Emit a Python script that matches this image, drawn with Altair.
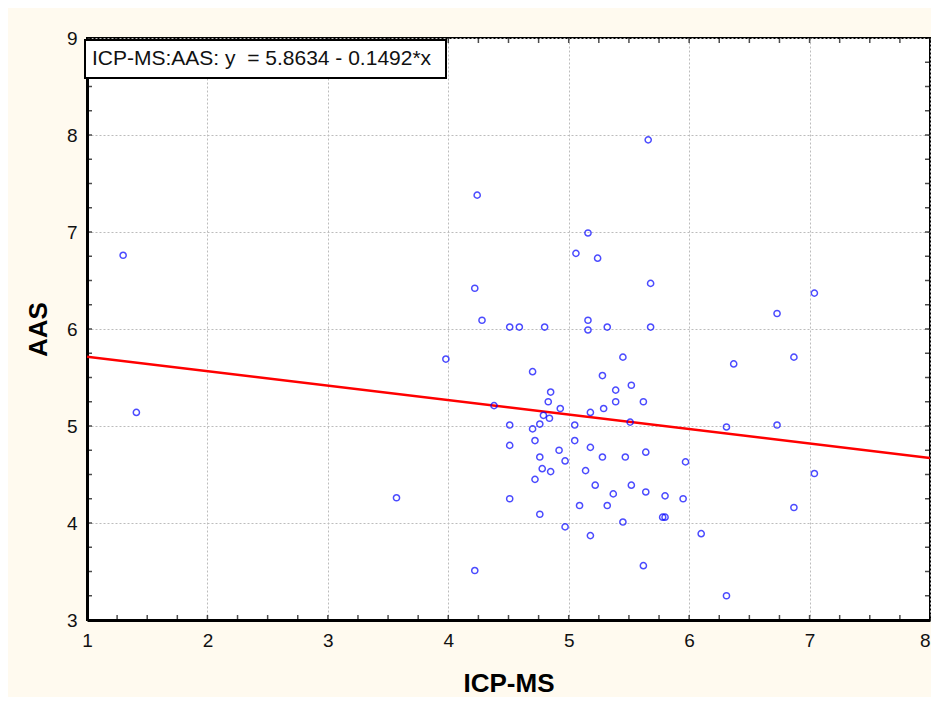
import altair as alt
import pandas as pd

# ---- data ----
icp = [1.30, 1.41, 3.57, 3.98, 4.24, 4.22, 4.28, 4.22, 4.38, 4.51,
       4.59, 4.80, 4.51, 4.51, 4.51, 4.70, 4.85, 4.83, 4.93, 4.79,
       4.84, 4.76, 4.70, 4.72, 4.76, 4.78, 4.85, 4.92, 4.97, 4.72,
       4.76, 4.97, 5.05, 5.05, 5.18, 5.18, 5.14, 5.22, 5.09, 5.18,
       5.28, 5.39, 5.39, 5.29, 5.28, 5.37, 5.32, 5.45, 5.52, 5.51,
       5.47, 5.52, 5.45, 5.62, 5.64, 5.64, 5.80, 5.78, 5.80, 5.62,
       5.95, 5.97, 6.10, 6.31, 6.31, 6.37, 6.73, 6.73, 6.87, 6.87,
       7.04, 7.04, 5.66, 5.16, 5.06, 5.24, 5.68, 5.16, 5.16, 5.32,
       5.68]
aas = [6.76, 5.14, 4.26, 5.69, 7.38, 6.42, 6.09, 3.51, 5.21, 6.02,
       6.02, 6.02, 5.01, 4.80, 4.25, 5.56, 5.35, 5.25, 5.18, 5.11,
       5.08, 5.02, 4.97, 4.85, 4.68, 4.56, 4.53, 4.75, 4.64, 4.45,
       4.09, 3.96, 5.01, 4.85, 5.14, 4.78, 4.54, 4.39, 4.18, 3.87,
       5.52, 5.37, 5.25, 5.18, 4.68, 4.30, 4.18, 5.71, 5.42, 5.04,
       4.68, 4.39, 4.01, 5.25, 4.73, 4.32, 4.28, 4.06, 4.06, 3.56,
       4.25, 4.63, 3.89, 4.99, 3.25, 5.64, 5.01, 6.16, 5.71, 4.16,
       6.37, 4.51, 7.95, 6.99, 6.78, 6.73, 6.47, 6.09, 5.99, 6.02,
       6.02]

intercept = 5.8634
slope = -0.1492
line_x = [1, 8]

x_ticks = [1, 2, 3, 4, 5, 6, 7, 8]
y_ticks = [3, 4, 5, 6, 7, 8, 9]
x_minor = [1 + 0.25 * i for i in range(29)]
y_minor = [3 + 0.25 * i for i in range(25)]

legend_text = "ICP-MS:AAS: y \u00a0= 5.8634 - 0.1492*x"
FONT = "Liberation Sans"

pts = pd.DataFrame({"icp": icp, "aas": aas})
fit = pd.DataFrame({"icp": line_x, "aas": [intercept + slope * v for v in line_x]})

xs = alt.Scale(domain=[1, 8], nice=False, zero=False)
ys = alt.Scale(domain=[3, 9], nice=False, zero=False)

xaxis = alt.Axis(values=x_ticks, title="ICP-MS", grid=True, ticks=False, format="d",
                 labelFlush=False,
                 labelAlign={"condition": {"test": "datum.value >= 8", "value": "right"},
                             "value": "center"},
                 labelFontSize=19, titleFontSize=26, titleFontWeight="bold",
                 labelPadding=11, titlePadding=20)
yaxis = alt.Axis(values=y_ticks, title="AAS", grid=True, ticks=False, format="d",
                 labelFlush=False,
                 labelFontSize=19, titleFontSize=26, titleFontWeight="bold",
                 labelPadding=10, titlePadding=15)

line = alt.Chart(fit).mark_line(color="#ff0000", strokeWidth=2.5, clip=True).encode(
    x=alt.X("icp:Q", scale=xs, axis=xaxis),
    y=alt.Y("aas:Q", scale=ys, axis=yaxis),
)

points = alt.Chart(pts).mark_point(shape="circle", filled=False, color="#0000ff",
                                   size=38, strokeWidth=1.5, clip=True).encode(
    x=alt.X("icp:Q", scale=xs),
    y=alt.Y("aas:Q", scale=ys),
)

bx = pd.DataFrame({"icp": x_minor})
by = pd.DataFrame({"aas": y_minor})
tick_style = dict(color="black", thickness=1.5, size=5)
bottom_ticks = alt.Chart(bx).mark_tick(orient="vertical", yOffset=-2.5, **tick_style).encode(
    x=alt.X("icp:Q", scale=xs), y=alt.Y("v:Q", scale=ys)
).transform_calculate(v="3")
top_ticks = alt.Chart(bx).mark_tick(orient="vertical", yOffset=2.5, **tick_style).encode(
    x=alt.X("icp:Q", scale=xs), y=alt.Y("v:Q", scale=ys)
).transform_calculate(v="9")
left_ticks = alt.Chart(by).mark_tick(orient="horizontal", xOffset=2.5, **tick_style).encode(
    y=alt.Y("aas:Q", scale=ys), x=alt.X("v:Q", scale=xs)
).transform_calculate(v="1")
right_ticks = alt.Chart(by).mark_tick(orient="horizontal", xOffset=-2.5, **tick_style).encode(
    y=alt.Y("aas:Q", scale=ys), x=alt.X("v:Q", scale=xs)
).transform_calculate(v="8")

legend_df = pd.DataFrame({"label": [legend_text]})
legend_box = alt.Chart(legend_df).mark_rect(fill="white", stroke="black", strokeWidth=2).encode(
    x=alt.value(-2), x2=alt.value(359), y=alt.value(2), y2=alt.value(40)
)
legend_label = alt.Chart(legend_df).mark_text(align="left", baseline="middle", fontSize=21,
                                              font=FONT, color="#111111").encode(
    x=alt.value(5), y=alt.value(21), text="label:N"
)

chart = alt.layer(line, points, bottom_ticks, top_ticks, left_ticks, right_ticks,
                  legend_box, legend_label).properties(
    width=843, height=582,
    padding={"left": 79, "top": 30, "right": 1, "bottom": 77},
    autosize=alt.AutoSizeParams(type="none"),
    background="#fffaef",
).configure_view(
    fill="white", stroke="black", strokeWidth=2
).configure_axis(
    domainColor="black", domainWidth=3,
    gridColor="#bcbcbc", gridDash=[2, 2], gridWidth=1,
    labelFont=FONT, titleFont=FONT, labelColor="#111111", titleColor="#000000",
)

chart.save("out.html", embed_options={"renderer": "svg", "actions": False})
